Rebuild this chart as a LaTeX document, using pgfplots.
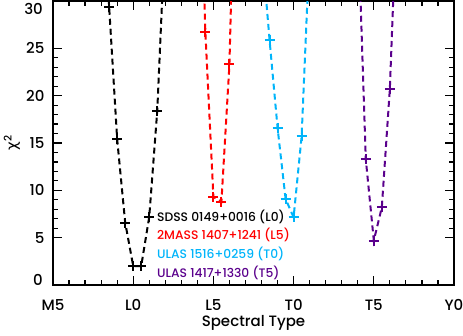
\documentclass[border=0pt]{standalone}
\usepackage{fontspec}
\setmainfont{Poppins}[UprightFont=* Medium]
\newfontfamily\greekfont{DejaVu Sans}
\usepackage{pgfplots}
\pgfplotsset{compat=1.18}
\definecolor{cyanT}{RGB}{0,180,250}
\definecolor{purpT}{RGB}{90,0,140}
\newcommand{\tickfont}{\fontsize{15}{15}\selectfont}
\begin{document}
\begin{tikzpicture}
\path[use as bounding box] (-53pt,-50pt) rectangle (410pt,285pt);
\begin{axis}[
  at={(0pt,0pt)}, anchor=south west,
  width=401pt, height=284pt, scale only axis,
  xmin=5, xmax=30, ymin=0, ymax=30,
  clip mode=individual,
  xtick={5,10,...,30}, xticklabels={M5,L0,L5,T0,T5,Y0},
  ytick={5,10,15,20,25},
  extra y ticks={0,30}, extra y tick labels={},
  minor x tick num=4, minor y tick num=4,
  tick align=inside,
  major tick length=9pt, minor tick length=5pt,
  axis line style={line width=1.4pt},
  every tick/.style={line width=1.2pt, black},
  tick label style={font=\tickfont},
  /pgf/number format/assume math mode=true,
  xticklabel style={anchor=center, yshift=-20pt},
  yticklabel style={anchor=east, xshift=-5pt},
  xlabel={Spectral Type}, ylabel={{\greekfont χ}\textsuperscript{2}},
  label style={font=\tickfont},
  xlabel style={at={(rel axis cs:0.5,0)}, anchor=center, yshift=-38pt},
  ylabel style={at={([xshift=-41pt]rel axis cs:0,0.5)}, anchor=center},
  every axis plot/.append style={line width=2pt, dash pattern=on 6pt off 4pt,
    mark=+, mark size=5pt, mark options={solid, line width=2pt}},
]
\addplot[black] coordinates {(8,45) (8.5,29.4) (9,15.4) (9.5,6.6) (10,2.0) (10.5,2.0) (11,7.2) (11.5,18.4) (12,37.7)};
\addplot[red] coordinates {(14,54) (14.5,26.7) (15,9.3) (15.5,8.8) (16,23.3) (16.5,57)};
\addplot[cyanT] coordinates {(18,36) (18.5,25.9) (19,16.6) (19.5,9.1) (20,7.15) (20.5,15.7) (21,35.7)};
\addplot[purpT] coordinates {(24,39) (24.5,13.3) (25,4.7) (25.5,8.2) (26,20.7) (26.5,43)};
\node[anchor=east, inner sep=0pt, font=\tickfont] at ([xshift=-10pt,yshift=5pt]rel axis cs:0,0) {0};
\node[anchor=east, inner sep=0pt, font=\tickfont] at ([xshift=-10pt,yshift=-8pt]rel axis cs:0,1) {30};
\begin{scope}[every node/.style={anchor=west, inner sep=0pt, font=\fontsize{12.3}{12.3}\selectfont}]
\node[text=black] at (axis cs:11.48,7.2) {SDSS 0149+0016 (L0)};
\node[text=red] at (axis cs:11.48,5.28) {2MASS 1407+1241 (L5)};
\node[text=cyanT] at (axis cs:11.48,3.27) {ULAS 1516+0259 (T0)};
\node[text=purpT] at (axis cs:11.48,1.27) {ULAS 1417+1330 (T5)};
\end{scope}
\end{axis}
\end{tikzpicture}
\end{document}
